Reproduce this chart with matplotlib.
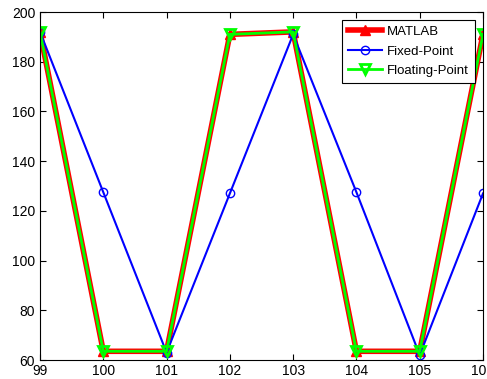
import numpy as np
import matplotlib
matplotlib.use('Agg')
import matplotlib.pyplot as plt

plt.rcParams['font.family'] = ['Liberation Sans', 'DejaVu Sans']

# datos
muestras = [99, 100, 101, 102, 103, 104, 105, 106]
matlab = [192, 63.5, 63.5, 191, 192, 63.5, 63.5, 191]
punto_fijo = [192, 127.5, 63, 127, 191, 127.5, 62, 127]
punto_flotante = [192, 63.5, 63.5, 191, 192, 63.5, 63.5, 191]

fig = plt.figure(figsize=(4.87, 3.79), dpi=100)
ax = fig.add_axes([40/487, 19/379, 443/487, 348/379])

ax.plot(muestras, matlab, color='red', lw=4, marker='^', ms=7,
        mfc='red', mec='red', label='MATLAB')
ax.plot(muestras, punto_fijo, color='blue', lw=1.5, marker='o', ms=6,
        mfc='none', mec='blue', label='Fixed-Point')
ax.plot(muestras, punto_flotante, color='#00ff00', lw=2, marker='v', ms=7,
        mfc='none', mec='#00ff00', mew=2, label='Floating-Point')

ax.set_xlim(99, 106)
ax.set_ylim(60, 200)
ax.set_xticks(range(99, 107))
ax.set_yticks(range(60, 201, 20))
ax.tick_params(direction='in', top=True, right=True, labelsize=10, length=4)
ax.tick_params(axis='x', pad=3)

leg = ax.legend(loc='upper right', fontsize=9.5, fancybox=False,
                edgecolor='black', framealpha=1, borderaxespad=0.6,
                handlelength=2.6, handletextpad=0.4, labelspacing=0.55,
                borderpad=0.45)
leg.get_frame().set_linewidth(0.8)

fig.savefig('out.png', dpi=100)
